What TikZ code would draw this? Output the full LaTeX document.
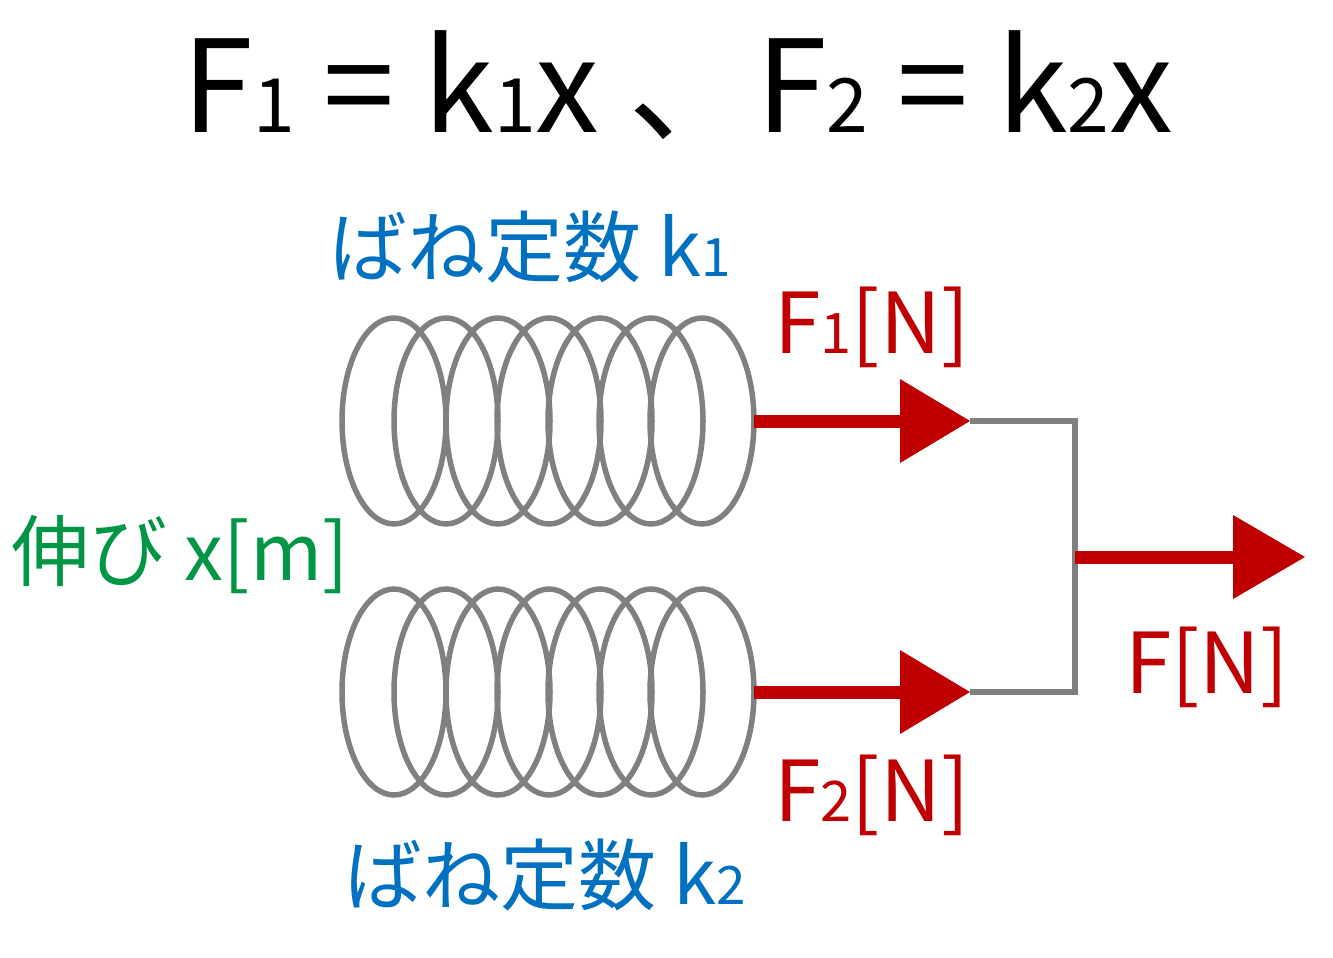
\documentclass[tikz,border=0pt]{standalone}
\usepackage{fontspec}
\setmainfont{Noto Sans CJK JP}
\definecolor{sblue}{RGB}{0,112,192}
\definecolor{sred}{RGB}{192,0,0}
\definecolor{sgreen}{RGB}{0,150,70}
\definecolor{sgray}{RGB}{128,128,128}
\begin{document}
\begin{tikzpicture}[x=1pt,y=-1pt,
  coil/.style={draw=sgray,line width=5.5pt},
  force/.style={draw=sred,line width=13pt},
  head/.style={fill=sred,draw=none},
  link/.style={draw=sgray,line width=5.5pt},
  lbl/.style={inner sep=0pt,font=\fontsize{78}{90}\selectfont}]
\useasboundingbox (0,0) rectangle (1333,958);
\node[inner sep=0pt,font=\fontsize{128}{140}\selectfont] (title) at (678,85) {F{\fontsize{75}{75}\selectfont 1} = k{\fontsize{75}{75}\selectfont 1}x 、F{\fontsize{75}{75}\selectfont 2} = k{\fontsize{75}{75}\selectfont 2}x};
\foreach \c in {394,446,498,549,600,651,702}{
  \draw[coil] (\c,421) ellipse [x radius=52,y radius=103];
  \draw[coil] (\c,692) ellipse [x radius=52,y radius=103];
}
\coordinate (a1) at (754,421); \coordinate (t1) at (970,421);
\coordinate (a2) at (754,692); \coordinate (t2) at (970,692);
\coordinate (j1) at (1075,421); \coordinate (j2) at (1075,692);
\coordinate (o1) at (1075,557); \coordinate (o2) at (1305,557);
\draw[link] (t1) -- (j1) -- (j2) -- (t2);
\draw[force] (a1) -- (905,421);
\fill[head] (900,379) -- (t1) -- (900,463) -- cycle;
\draw[force] (a2) -- (905,692);
\fill[head] (900,650) -- (t2) -- (900,734) -- cycle;
\draw[force] (o1) -- (1240,557);
\fill[head] (1233,515) -- (o2) -- (1233,599) -- cycle;
\node[lbl,text=sblue] (k1) at (530,247) {ばね定数 k{\fontsize{53}{55}\selectfont 1}};
\node[lbl,text=sblue] (k2) at (545,875) {ばね定数 k{\fontsize{53}{55}\selectfont 2}};
\node[lbl,text=sred,font=\fontsize{84}{95}\selectfont] (f1) at (872,327) {F{\fontsize{56}{60}\selectfont 1}[N]};
\node[lbl,text=sred,font=\fontsize{84}{95}\selectfont] (f2) at (872,795) {F{\fontsize{56}{60}\selectfont 2}[N]};
\node[lbl,text=sred,font=\fontsize{84}{95}\selectfont] (f) at (1207,667) {F[N]};
\node[lbl,text=sgreen] (x) at (180,555) {伸び x[m]};
\end{tikzpicture}
\end{document}
